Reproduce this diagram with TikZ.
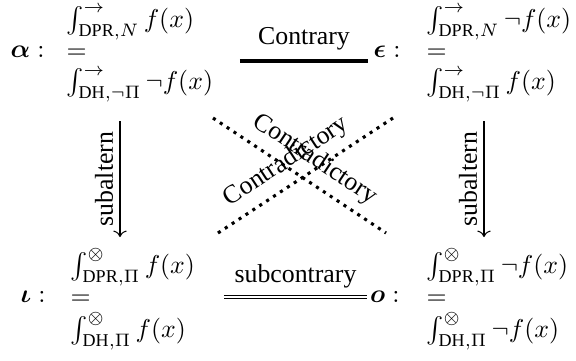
\documentclass[tikz,border=0pt]{standalone}
\usepackage{amsmath}
\usepackage{bm}
\usepackage[no-math]{fontspec}
\setmainfont{Liberation Serif}
\usetikzlibrary{arrows.meta}
\begin{document}
\begin{tikzpicture}[x=0.3876pt,y=-0.3876pt,
  formula/.style={inner sep=0pt, anchor=west},
  tagnode/.style={inner sep=0pt, anchor=base east},
  contraryline/.style={line width=1.5pt},
  subcontraryline/.style={double, double distance=0.8pt, line width=0.5pt},
  subalternline/.style={->, line width=0.4pt},
  contraline/.style={very thick, dotted},
  lbl/.style={font=\normalsize}]
\useasboundingbox (0,0) rectangle (576,360);

% corner tags
\node[tagnode] (Atag) at (45,57)  {$\bm{\alpha}:$};
\node[tagnode] (Etag) at (401,57) {$\bm{\epsilon}:$};
\node[tagnode] (Itag) at (46,302.5) {$\bm{\iota}:$};
\node[tagnode] (Otag) at (400,302.5) {$\bm{o}:$};

% corner formulas
\node[formula] (A) at (66,54) {$\begin{array}{@{}l@{}}
  \int_{\text{DPR},N}^{\rightarrow} f(x)\\[-1.2pt]
  =\\
  \int_{\text{DH},\neg\Pi}^{\rightarrow} \neg f(x)
\end{array}$};
\node[formula] (E) at (426,54) {$\begin{array}{@{}l@{}}
  \int_{\text{DPR},N}^{\rightarrow} \neg f(x)\\[-1.2pt]
  =\\
  \int_{\text{DH},\neg\Pi}^{\rightarrow} f(x)
\end{array}$};
\node[formula] (I) at (70,299) {$\begin{array}{@{}l@{}}
  \int_{\text{DPR},\Pi}^{\otimes} f(x)\\[-1.4pt]
  =\\[-0.6pt]
  \int_{\text{DH},\Pi}^{\otimes} f(x)
\end{array}$};
\node[formula] (O) at (426,299) {$\begin{array}{@{}l@{}}
  \int_{\text{DPR},\Pi}^{\otimes} \neg f(x)\\[-1.4pt]
  =\\[-0.6pt]
  \int_{\text{DH},\Pi}^{\otimes} \neg f(x)
\end{array}$};

% contrary / subcontrary
\coordinate (c1) at (240,61);
\coordinate (c2) at (368,61);
\draw[contraryline] (c1) -- node[lbl, above]{Contrary} (c2);
\coordinate (s1) at (224,297);
\coordinate (s2) at (367,297);
\draw[subcontraryline] (s1) -- node[lbl, above]{subcontrary} (s2);

% subaltern arrows
\coordinate (l1) at (120,121);
\coordinate (l2) at (120,237);
\draw[subalternline] (l1) -- node[lbl, midway, rotate=90, anchor=south, inner sep=2.5pt]{subaltern} (l2);
\coordinate (r1) at (484,121);
\coordinate (r2) at (484,237);
\draw[subalternline] (r1) -- node[lbl, midway, rotate=90, anchor=south, inner sep=2.5pt]{subaltern} (r2);

% contradictory diagonals
\coordinate (d1a) at (213,118);
\coordinate (d1b) at (386,233);
\coordinate (d2a) at (218,233);
\coordinate (d2b) at (393,118);
\draw[contraline] (d1a) -- node[lbl, sloped, above, pos=0.52]{Contradictory} (d1b);
\draw[contraline] (d2a) -- node[lbl, sloped, above, pos=0.46]{Contradictory} (d2b);
\end{tikzpicture}
\end{document}
